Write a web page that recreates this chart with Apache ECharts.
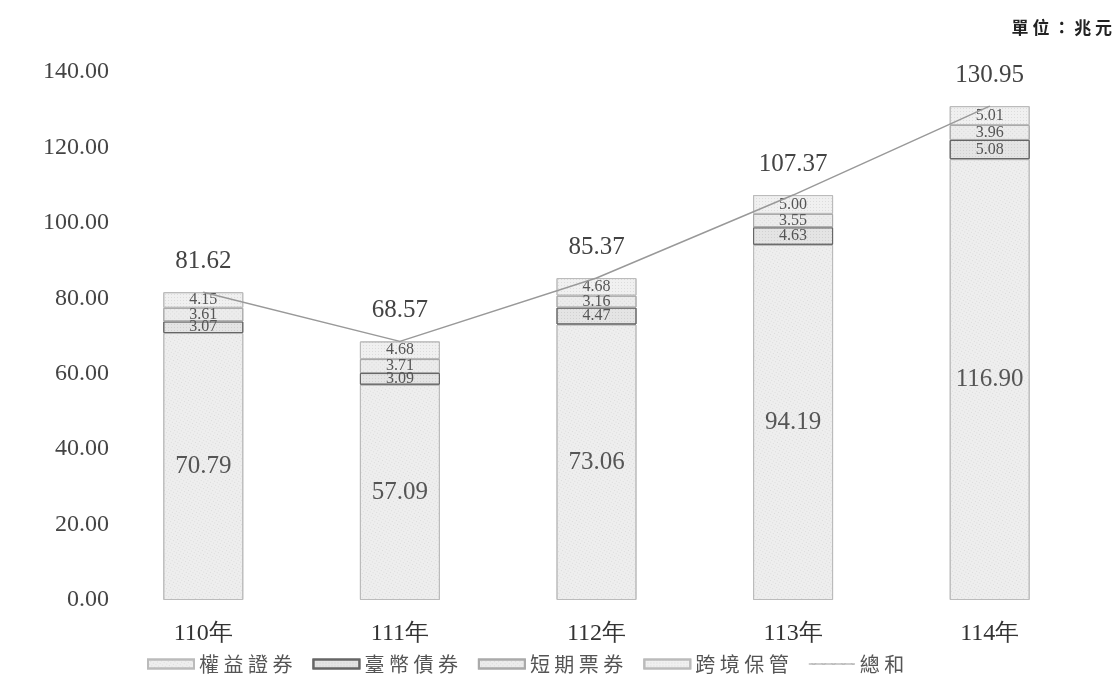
<!DOCTYPE html>
<html><head><meta charset="utf-8">
<script src="https://cdn.jsdelivr.net/npm/echarts@6/dist/echarts.min.js"></script>
<style>html,body{margin:0;padding:0;background:#fff}#c{width:1119px;height:699px}</style>
</head><body><div id="c"></div>
<script>
const categories = ['110年','111年','112年','113年','114年'];
const equity = [70.79, 57.09, 73.06, 94.19, 116.90];
const ntdBonds = [3.07, 3.09, 4.47, 4.63, 5.08];
const shortBills = [3.61, 3.71, 3.16, 3.55, 3.96];
const crossBorder = [4.15, 4.68, 4.68, 5.00, 5.01];
const total = [81.62, 68.57, 85.37, 107.37, 130.95];
const yTicks = [0, 20, 40, 60, 80, 100, 120, 140];

const serif = 'Liberation Serif';
const cjk = 'Noto Sans CJK TC';
const chart = echarts.init(document.getElementById('c'));
function decal(c){return {symbol:'rect',symbolSize:0.5,dashArrayX:[1,2],dashArrayY:[1,2],color:c};}
function barSeries(name, data, fill, border, fs){
  return {name, type:'bar', stack:'s', data, barWidth:80,
    itemStyle:{color:fill,borderColor:border,borderWidth:1,decal:decal('rgba(80,80,80,0.5)')},
    label:{show:true,position:'inside',formatter:p=>p.value.toFixed(2),fontFamily:serif,fontSize:fs,color:'#555'}};
}
chart.setOption({
  animation:false,
  aria:{enabled:true,decal:{show:true}},
  title:{text:'單 位 ： 兆 元',right:2,top:14,textStyle:{fontFamily:cjk,fontSize:17,fontWeight:'bold',color:'#222'}},
  grid:{left:105,right:31,top:72,bottom:99},
  legend:{bottom:20,left:142,itemWidth:46,itemHeight:9,itemGap:20,
    formatter:n=>n.split('').join(' '),
    textStyle:{fontFamily:cjk,fontSize:20,color:'#555'},
    data:[{name:'權益證券',icon:'rect'},{name:'臺幣債券',icon:'rect'},{name:'短期票券',icon:'rect'},{name:'跨境保管',icon:'rect'},
      {name:'總和',icon:'path://M0,5L60,5L60,6.5L0,6.5Z'}]},
  xAxis:{type:'category',data:categories,axisLine:{show:false},axisTick:{show:false},
    axisLabel:{fontFamily:serif,fontSize:24,color:'#333',margin:22}},
  yAxis:{type:'value',min:yTicks[0],max:yTicks[yTicks.length-1],interval:20,
    splitLine:{show:false},axisLine:{show:false},axisTick:{show:false},
    axisLabel:{fontFamily:serif,fontSize:24,color:'#444',margin:-4,formatter:v=>v.toFixed(2)}},
  series:[
    barSeries('權益證券',equity,'#eeeeee','#bbbbbb',25),
    barSeries('臺幣債券',ntdBonds,'#e4e4e4','#666666',16),
    barSeries('短期票券',shortBills,'#ececec','#aaaaaa',16),
    barSeries('跨境保管',crossBorder,'#f0f0f0','#bbbbbb',16),
    {name:'總和',type:'line',data:total,symbol:'circle',symbolSize:1,showSymbol:true,z:5,
      lineStyle:{color:'#999999',width:1.5},itemStyle:{color:'#999999'},
      label:{show:true,position:'top',distance:18,formatter:p=>p.value.toFixed(2),fontFamily:serif,fontSize:25,color:'#444'}}
  ]
});
</script></body></html>
